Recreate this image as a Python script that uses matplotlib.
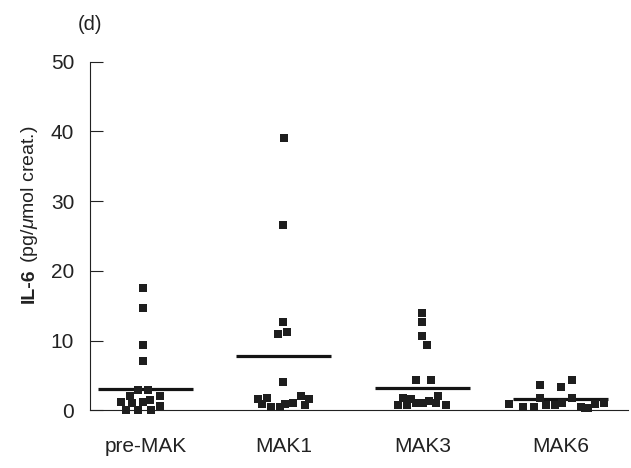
import matplotlib
matplotlib.use('Agg')
from matplotlib import pyplot as plt

plt.rcParams['font.family'] = ['Liberation Sans', 'DejaVu Sans']
plt.rcParams['mathtext.fontset'] = 'custom'
plt.rcParams['mathtext.rm'] = 'Liberation Sans'
plt.rcParams['mathtext.it'] = 'Liberation Sans:italic'
plt.rcParams['mathtext.bf'] = 'Liberation Sans:bold'

# groups on the x axis
groups = ['pre-MAK', 'MAK1', 'MAK3', 'MAK6']

# IL-6 values per patient
pre_mak = [17.6, 14.7, 9.4, 7.0, 2.9, 2.9, 2.0, 2.0, 1.2, 1.0, 1.2, 1.5, 0.65, 0.1, 0.1, 0.1]
mak1 = [39.0, 26.6, 12.7, 11.0, 11.3, 4.1, 1.6, 1.8, 0.9, 0.5, 0.5, 0.9, 1.1, 2.0, 1.6, 0.8]
mak3 = [13.9, 12.6, 10.6, 9.4, 4.4, 4.3, 1.8, 1.6, 2.1, 0.7, 0.7, 1.0, 1.0, 1.3, 1.0, 0.8]
mak6 = [0.9, 0.5, 0.5, 3.6, 1.7, 0.7, 0.75, 3.3, 1.0, 4.4, 1.7, 0.5, 0.3, 0.9, 1.0, 0.4]

# horizontal spread of the points inside each group (category units)
pre_mak_dx = [-0.02, -0.02, -0.02, -0.02, -0.054, 0.018, -0.11, 0.107, -0.177, -0.095, -0.018, 0.03, 0.107, -0.144, -0.052, 0.037]
mak1_dx = [0.0, -0.01, -0.01, -0.045, 0.02, -0.01, -0.19, -0.12, -0.16, -0.09, -0.03, 0.006, 0.064, 0.121, 0.179, 0.15]
mak3_dx = [0.0, 0.0, -0.004, 0.035, -0.045, 0.064, -0.139, -0.081, 0.112, -0.173, -0.11, -0.045, 0.004, 0.051, 0.1, 0.174]
mak6_dx = [-0.377, -0.274, -0.194, -0.153, -0.153, -0.105, -0.045, 0.003, 0.008, 0.082, 0.082, 0.15, 0.172, 0.244, 0.311, 0.196]

# group centre lines
centre = [3.0, 7.8, 3.2, 1.6]

values = [pre_mak, mak1, mak3, mak6]
offsets = [pre_mak_dx, mak1_dx, mak3_dx, mak6_dx]

fig = plt.figure(figsize=(6.31, 4.68), dpi=100)
ax = fig.add_axes([89.5 / 631, 1 - 410.3 / 468, (628 - 89.5) / 631, (410.3 - 61.7) / 468])

for i in range(len(groups)):
    xs = [i + d for d in offsets[i]]
    ax.scatter(xs, values[i], marker='s', s=38, color='#1e1e1e', linewidths=0, zorder=3, clip_on=False)
    ax.plot([i - 0.343, i + 0.343], [centre[i], centre[i]], color='#141414', lw=2.3, solid_capstyle='butt', zorder=2)

ax.set_xlim(-0.405, 3.486)
ax.set_ylim(0, 50)
ax.set_yticks([0, 10, 20, 30, 40, 50])
ax.set_xticks(range(len(groups)))
ax.set_xticklabels(groups)
ax.tick_params(axis='y', direction='in', length=9.6, width=0.8, pad=11, labelsize=15, colors='#222222')
ax.tick_params(axis='x', length=0, pad=19, labelsize=15, colors='#222222')
ax.spines['top'].set_visible(False)
ax.spines['right'].set_visible(False)
for s in ['left', 'bottom']:
    ax.spines[s].set_linewidth(0.8)
    ax.spines[s].set_color('#222222')

# y label: bold "IL-6" followed by the unit in regular weight
t1 = fig.text(33.5 / 631, 1 - 303 / 468, 'IL-6', rotation=90, rotation_mode='anchor',
              ha='left', va='baseline', fontsize=14, fontweight='bold', color='#222222')
ax.annotate(r' (pg/$\mu$mol creat.)', xy=(33.5 / 631, 1.0), xycoords=('figure fraction', t1),
            rotation=90, rotation_mode='anchor', ha='left', va='baseline',
            fontsize=14, color='#222222', annotation_clip=False)

fig.text(90 / 631, 1 - 24 / 468, '(d)', ha='center', va='center', fontsize=14.5, color='#222222')

fig.savefig('out.png', dpi=100)
